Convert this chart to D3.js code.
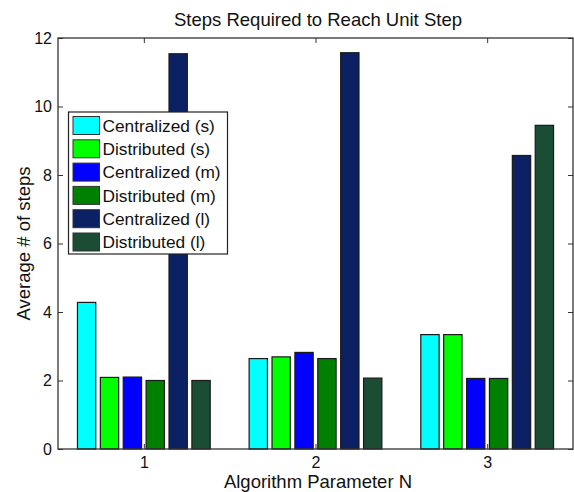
<!DOCTYPE html>
<html>
<head>
<meta charset="utf-8">
<script src="https://cdnjs.cloudflare.com/ajax/libs/d3/7.8.5/d3.min.js"></script>
<style>
  body { margin: 0; background: #fff; }
  text { font-family: "Liberation Sans", Arial, sans-serif; fill: #111; }
</style>
</head>
<body>
<script>
  //categories on the x axis
  var groups = [1, 2, 3];
  //series names, in legend order
  var seriesNames = ["Centralized (s)", "Distributed (s)", "Centralized (m)", "Distributed (m)", "Centralized (l)", "Distributed (l)"];
  var seriesColors = ["#00ffff", "#00ff00", "#0000ff", "#008000", "#0c2163", "#1b4d35"];
  //average # of steps, one array per series (N = 1, 2, 3)
  var centralizedS = [4.28, 2.64, 3.34];
  var distributedS = [2.09, 2.69, 3.34];
  var centralizedM = [2.10, 2.82, 2.06];
  var distributedM = [2.00, 2.64, 2.06];
  var centralizedL = [11.54, 11.57, 8.57];
  var distributedL = [2.00, 2.07, 9.45];
  var yTicks = [0, 2, 4, 6, 8, 10, 12];

  var seriesValues = [centralizedS, distributedS, centralizedM, distributedM, centralizedL, distributedL];

  //chart frame
  var width = 574;
  var height = 492;
  var plot = { left: 58, right: 573, top: 38, bottom: 449 };

  var svg = d3.select("body")
              .append("svg")
              .attr("width", width)
              .attr("height", height);

  var x = d3.scaleLinear().domain([0.5, 3.5]).range([plot.left, plot.right]);
  var y = d3.scaleLinear().domain([0, 12]).range([plot.bottom, plot.top]);

  //matlab style grouped bars: group width 0.8, bar width 0.8 of slot
  var nSeries = seriesNames.length;
  var slot = 0.8 / nSeries;
  var barW = slot * 0.8;

  //flatten into one list of bars
  var bars = [];
  seriesValues.forEach(function(vals, s) {
    vals.forEach(function(v, g) {
      bars.push({ series: s, group: groups[g], value: v });
    });
  });

  svg.append("g")
    .selectAll("rect")
    .data(bars)
    .enter().append("rect")
      .attr("x", function(d) { return x(d.group - 0.4 + slot * d.series + (slot - barW) / 2); })
      .attr("y", function(d) { return y(d.value); })
      .attr("width", function(d) { return x(barW) - x(0); })
      .attr("height", function(d) { return y(0) - y(d.value); })
      .style("fill", function(d) { return seriesColors[d.series]; })
      .style("stroke", "#1a1a1a")
      .style("stroke-width", 1.2);

  //axes, ticks pointing inward
  var tickLen = 5;
  var axisLeft = d3.axisLeft(y).tickValues(yTicks).tickSize(-tickLen).tickPadding(6);
  var axisRight = d3.axisRight(y).tickValues(yTicks).tickSize(-tickLen).tickFormat("");
  var axisBottom = d3.axisBottom(x).tickValues(groups).tickSize(-tickLen).tickPadding(8).tickFormat(d3.format("d"));
  var axisTop = d3.axisTop(x).tickValues(groups).tickSize(-tickLen).tickFormat("");

  function styleAxis(g) {
    g.select(".domain").remove();
    g.selectAll("line").attr("stroke", "#333");
    g.selectAll("text").style("font-size", "16px").style("fill", "#111")
      .style("font-family", "'Liberation Sans', Arial, sans-serif");
  }

  svg.append("g").attr("transform", "translate(" + plot.left + ",0)").call(axisLeft).call(styleAxis);
  svg.append("g").attr("transform", "translate(" + plot.right + ",0)").call(axisRight).call(styleAxis);
  svg.append("g").attr("transform", "translate(0," + plot.bottom + ")").call(axisBottom).call(styleAxis);
  svg.append("g").attr("transform", "translate(0," + plot.top + ")").call(axisTop).call(styleAxis);

  //box around the plot
  svg.append("rect")
    .attr("x", plot.left)
    .attr("y", plot.top)
    .attr("width", plot.right - plot.left)
    .attr("height", plot.bottom - plot.top)
    .style("fill", "none")
    .style("stroke", "#333")
    .style("stroke-width", 1.3);

  //title and labels
  svg.append("text")
    .attr("x", 318)
    .attr("y", 26)
    .attr("text-anchor", "middle")
    .style("font-size", "18.5px")
    .text("Steps Required to Reach Unit Step");

  svg.append("text")
    .attr("x", 318)
    .attr("y", 488)
    .attr("text-anchor", "middle")
    .style("font-size", "18.5px")
    .text("Algorithm Parameter N");

  svg.append("text")
    .attr("transform", "translate(30," + (plot.top + plot.bottom) / 2 + ") rotate(-90)")
    .attr("text-anchor", "middle")
    .style("font-size", "18.5px")
    .text("Average # of steps");

  //legend
  var legend = svg.append("g").attr("transform", "translate(68.5,112)");
  legend.append("rect")
    .attr("width", 159)
    .attr("height", 142)
    .style("fill", "#fff")
    .style("stroke", "#222")
    .style("stroke-width", 1.2);

  var rowH = 23.3;
  var items = legend.selectAll(".item")
    .data(seriesNames)
    .enter().append("g")
      .attr("class", "item")
      .attr("transform", function(d, i) { return "translate(0," + (4.5 + i * rowH) + ")"; });

  items.append("rect")
    .attr("x", 4.5)
    .attr("width", 26.5)
    .attr("height", 18)
    .style("fill", function(d, i) { return seriesColors[i]; })
    .style("stroke", "#333")
    .style("stroke-width", 1);

  items.append("text")
    .attr("x", 34)
    .attr("y", 15.3)
    .style("font-size", "17.3px")
    .text(function(d) { return d; });
</script>
</body>
</html>
